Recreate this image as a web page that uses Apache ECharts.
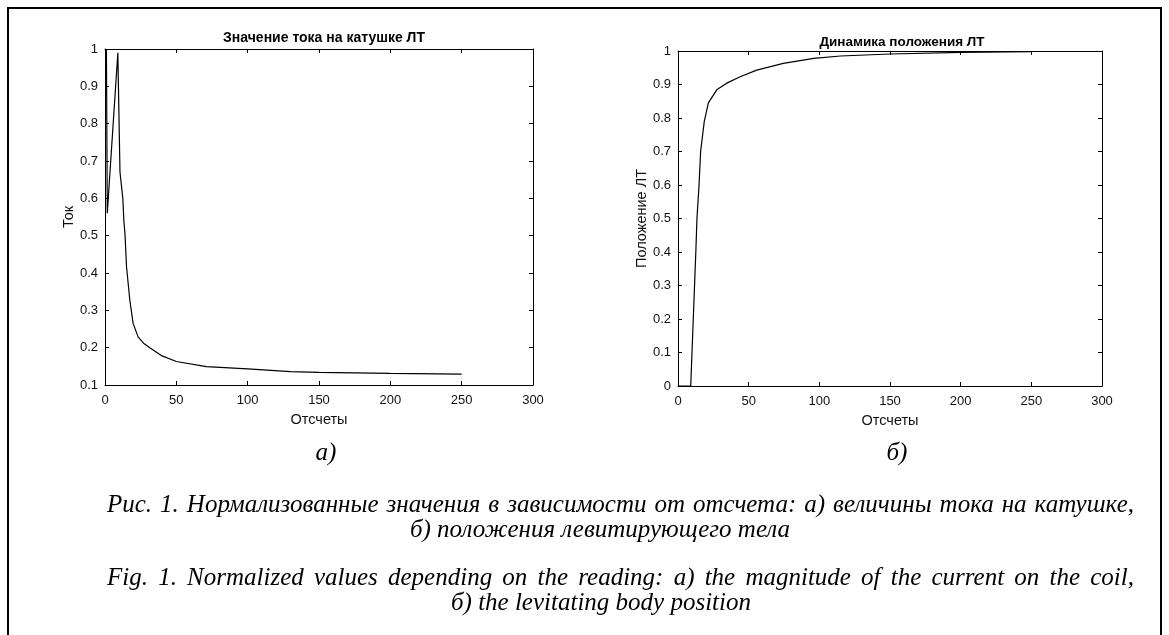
<!DOCTYPE html>
<html>
<head>
<meta charset="utf-8">
<script src="https://cdn.jsdelivr.net/npm/echarts@6/dist/echarts.min.js"></script>
<style>
  html, body { margin: 0; padding: 0; background: #fff; }
  #chart { width: 1169px; height: 635px; }
</style>
</head>
<body>
<div id="chart"></div>
<script>
// а) Значение тока на катушке ЛТ
var currentX = [1, 1.6, 9, 10.5, 11.5, 12.5, 13.2, 14, 15.1, 17.4, 19.7, 23.2, 27, 31.4, 40, 50, 71, 100, 130, 150, 200, 250]
var currentY = [1.0, 0.56, 0.99, 0.67, 0.67, 0.6, 0.54, 0.505, 0.416, 0.327, 0.265, 0.229, 0.212, 0.2, 0.178, 0.163, 0.149, 0.143, 0.136, 0.134, 0.131, 0.129]

// б) Динамика положения ЛТ
var posX = [0, 9, 12.7, 13.4, 14.9, 16, 18.6, 21.5, 27.4, 34.5, 44, 55.7, 74.5, 96, 115, 150, 200, 250]
var posY = [0, 0, 0.41, 0.5, 0.6, 0.7, 0.79, 0.845, 0.884, 0.904, 0.923, 0.943, 0.963, 0.978, 0.985, 0.991, 0.996, 0.998]

var xTicks = { min: 0, max: 300, interval: 50 }
var currentTicks = { min: 0.1, max: 1, interval: 0.1 }
var posTicks = { min: 0, max: 1, interval: 0.1 }

var sans = '"Liberation Sans", Arial, sans-serif'
var serif = '"Liberation Serif", "Times New Roman", serif'
var capFont = 'italic 25px ' + serif

function pairs (xs, ys) {
  var out = []
  for (var i = 0; i < xs.length; i++) {
    out.push([xs[i], ys[i]])
  }
  return out
}

function axis (gridIndex, position, ticks, name, nameGap) {
  var main = position === 'bottom' || position === 'left'
  return {
    type: 'value',
    gridIndex: gridIndex,
    position: position,
    min: ticks.min,
    max: ticks.max,
    interval: ticks.interval,
    name: main ? name : '',
    nameLocation: 'middle',
    nameGap: nameGap,
    nameTextStyle: { color: '#111', fontSize: 14.5, fontFamily: sans },
    axisLine: { show: true, onZero: false, lineStyle: { color: '#000', width: 1 } },
    axisTick: { show: true, inside: true, length: 4, lineStyle: { color: '#000', width: 1 } },
    axisLabel: {
      show: main,
      margin: position === 'bottom' ? 9 : 7,
      color: '#111',
      fontSize: 13,
      fontFamily: sans
    },
    splitLine: { show: false }
  }
}

// justified caption line: words spread between x0 and x1
function justified (text, x0, x1, y) {
  var ctx = document.createElement('canvas').getContext('2d')
  ctx.font = capFont
  var words = text.split(' ')
  var widths = words.map(function (w) { return ctx.measureText(w).width })
  var total = widths.reduce(function (a, b) { return a + b }, 0)
  var gap = (x1 - x0 - total) / (words.length - 1)
  var x = x0
  var els = []
  words.forEach(function (w, i) {
    els.push({
      type: 'text', x: x, y: y,
      style: { text: w, align: 'left', verticalAlign: 'middle', font: capFont, fill: '#000' }
    })
    x += widths[i] + gap
  })
  return els
}

function centered (text, x, y) {
  return {
    type: 'text', x: x, y: y,
    style: { text: text, align: 'center', verticalAlign: 'middle', font: capFont, fill: '#000' }
  }
}

var graphics = [
  {
    type: 'rect',
    shape: { x: 8, y: 8, width: 1153, height: 640 },
    style: { fill: 'none', stroke: '#000', lineWidth: 2 }
  },
  centered('а)', 326, 453),
  centered('б)', 897, 453),
  centered('б) положения левитирующего тела', 600, 530),
  centered('б) the levitating body position', 601, 603)
]
graphics = graphics
  .concat(justified('Рис. 1. Нормализованные значения в зависимости от отсчета: а) величины тока на катушке,', 107, 1134, 505))
  .concat(justified('Fig. 1. Normalized values depending on the reading: a) the magnitude of the current on the coil,', 107, 1134, 578))

var chart = echarts.init(document.getElementById('chart'))
chart.setOption({
  animation: false,
  backgroundColor: '#fff',
  title: [
    {
      text: 'Значение тока на катушке ЛТ',
      left: 319,
      top: 26,
      textAlign: 'center',
      textStyle: { fontSize: 14, fontWeight: 'bold', color: '#000', fontFamily: sans }
    },
    {
      text: 'Динамика положения ЛТ',
      left: 897,
      top: 30,
      textAlign: 'center',
      textStyle: { fontSize: 13.5, fontWeight: 'bold', color: '#000', fontFamily: sans }
    }
  ],
  grid: [
    { left: 105, top: 49, width: 428, height: 336 },
    { left: 678, top: 51, width: 424, height: 335 }
  ],
  xAxis: [
    axis(0, 'bottom', xTicks, 'Отсчеты', 27),
    axis(0, 'top', xTicks, '', 0),
    axis(1, 'bottom', xTicks, 'Отсчеты', 27),
    axis(1, 'top', xTicks, '', 0)
  ],
  yAxis: [
    axis(0, 'left', currentTicks, 'Ток', 29),
    axis(0, 'right', currentTicks, '', 0),
    axis(1, 'left', posTicks, 'Положение ЛТ', 28),
    axis(1, 'right', posTicks, '', 0)
  ],
  series: [
    {
      name: 'Ток',
      type: 'line',
      xAxisIndex: 0,
      yAxisIndex: 0,
      showSymbol: false,
      smooth: false,
      lineStyle: { color: '#000', width: 1.2 },
      data: pairs(currentX, currentY)
    },
    {
      name: 'Положение ЛТ',
      type: 'line',
      xAxisIndex: 2,
      yAxisIndex: 2,
      showSymbol: false,
      smooth: false,
      lineStyle: { color: '#000', width: 1.2 },
      data: pairs(posX, posY)
    }
  ],
  graphic: graphics
})
window.addEventListener('resize', chart.resize)
</script>
</body>
</html>
